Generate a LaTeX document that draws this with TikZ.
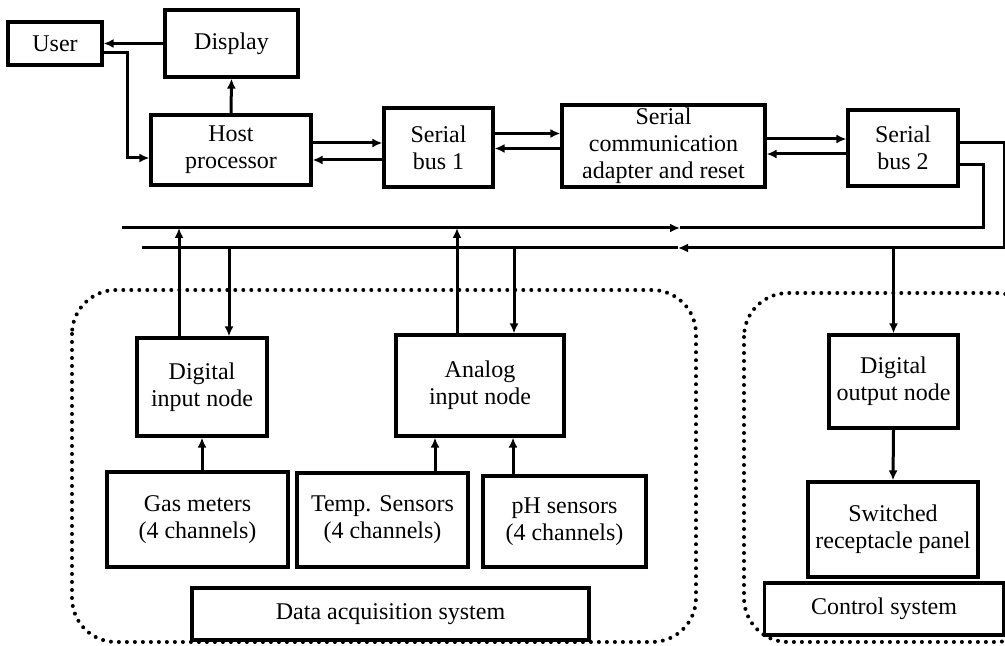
\documentclass[tikz,border=0pt]{standalone}
\usepackage{fontspec}
\setmainfont{Liberation Serif}
\usepackage{tikz}
\usetikzlibrary{arrows.meta}

\begin{document}
\begin{tikzpicture}[x=0.5pt,y=-0.5pt,
  box/.style={draw,line width=1.6pt,inner sep=0pt,align=center,font=\fontsize{12}{13.5}\selectfont},
  line/.style={line width=1.5pt},
  arr/.style={line,-{Latex[length=5pt,width=4.5pt]}},
  dotbox/.style={line width=2pt,line cap=round,dash pattern=on 0pt off 4pt,rounded corners=22pt}]
\clip (0,0) rectangle (1005,646);
\node [box,minimum width=47pt,minimum height=21.5pt] (user) at (55,43.5) {User};
\node [box,minimum width=66.5pt,minimum height=33.5pt] (disp) at (231.5,43.5) {Display};
\node [box,minimum width=80pt,minimum height=35pt] (host) at (231,150) {Host\\processor};
\node [box,minimum width=54.5pt,minimum height=39.5pt] (sbus1) at (438.5,147.5) {Serial\\bus 1};
\node [box,minimum width=101.5pt,minimum height=41pt] (adapt) at (663.5,146) {Serial\\communication\\adapter and reset};
\node [box,minimum width=55pt,minimum height=38pt] (sbus2) at (903,148) {Serial\\bus 2};
\node [box,minimum width=65pt,minimum height=49pt] (dinode) at (202,387) {Digital\\input node};
\node [box,minimum width=84pt,minimum height=50.5pt] (ainode) at (480,385.5) {Analog\\input node};
\node [box,minimum width=90.5pt,minimum height=47.5pt] (gas) at (197.5,519.5) {Gas meters\\(4 channels)};
\node [box,minimum width=85.5pt,minimum height=47pt] (temp) at (382.5,520) {Temp. Sensors\\(4 channels)};
\node [box,minimum width=81.5pt,minimum height=45.5pt] (ph) at (564.5,521.5) {pH sensors\\(4 channels)};
\node [box,minimum width=198.5pt,minimum height=26pt] (daq) at (390.5,614) {Data acquisition system};
\node [box,minimum width=64.5pt,minimum height=46.5pt] (donode) at (893.5,381.5) {Digital\\output node};
\node [box,minimum width=85pt,minimum height=47.5pt] (panel) at (893,529.5) {Switched\\receptacle panel};
\node [box,minimum width=119.5pt,minimum height=26pt] (ctrl) at (884,609) {Control system};
\draw [dotbox] (72,290) rectangle (696,642);
\draw [dotbox] (744,293) rectangle (1040,642);
\coordinate (upL) at (122,228);
\coordinate (upM) at (680,228);
\coordinate (upR) at (983,228);
\coordinate (loL) at (142,248);
\coordinate (loM) at (678,248);
\coordinate (loR) at (1004,248);
\draw [arr] (disp.west) -- (user.east);
\draw [arr] ([yshift=-4.5pt]user.east) -- ++(24,0) |- ([yshift=-4pt]host.west);
\draw [arr] (host.north) -- (disp.south);
\draw [arr] ([yshift=3.5pt]host.east) -- ([yshift=3.5pt]host.east -| sbus1.west);
\draw [arr] ([yshift=-5pt]host.east -| sbus1.west) -- ([yshift=-5pt]host.east);
\draw [arr] ([yshift=7pt]sbus1.east) -- ([yshift=7pt]sbus1.east -| adapt.west);
\draw [arr] ([yshift=-0.5pt]sbus1.east -| adapt.west) -- ([yshift=-0.5pt]sbus1.east);
\draw [arr] ([yshift=4.5pt]sbus2.west -| adapt.east) -- ([yshift=4.5pt]sbus2.west);
\draw [arr] ([yshift=-3pt]sbus2.west) -- ([yshift=-3pt]sbus2.west -| adapt.east);
\draw [arr] ([yshift=2.5pt]sbus2.east) -| (loR) -- (loM);
\draw [line] (loM) -- (loL);
\draw [arr] (upL) -- (upM);
\draw [line] (upM) -- (upR) |- ([yshift=-8.5pt]sbus2.east);
\draw [arr] ([xshift=-11.5pt]dinode.north) -- ([xshift=-11.5pt]dinode.north |- upL);
\draw [arr] ([xshift=13.5pt]dinode.north |- loL) -- ([xshift=13.5pt]dinode.north);
\draw [arr] ([xshift=-11.5pt]ainode.north) -- ([xshift=-11.5pt]ainode.north |- upL);
\draw [arr] ([xshift=17pt]ainode.north |- loL) -- ([xshift=17pt]ainode.north);
\draw [arr] (donode.north |- loL) -- (donode.north);
\draw [arr] (dinode.south |- gas.north) -- (dinode.south);
\draw [arr] ([xshift=-22.5pt]ainode.south |- temp.north) -- ([xshift=-22.5pt]ainode.south);
\draw [arr] ([xshift=16.5pt]ainode.south |- ph.north) -- ([xshift=16.5pt]ainode.south);
\draw [arr] (donode.south) -- (panel.north);
\end{tikzpicture}
\end{document}
